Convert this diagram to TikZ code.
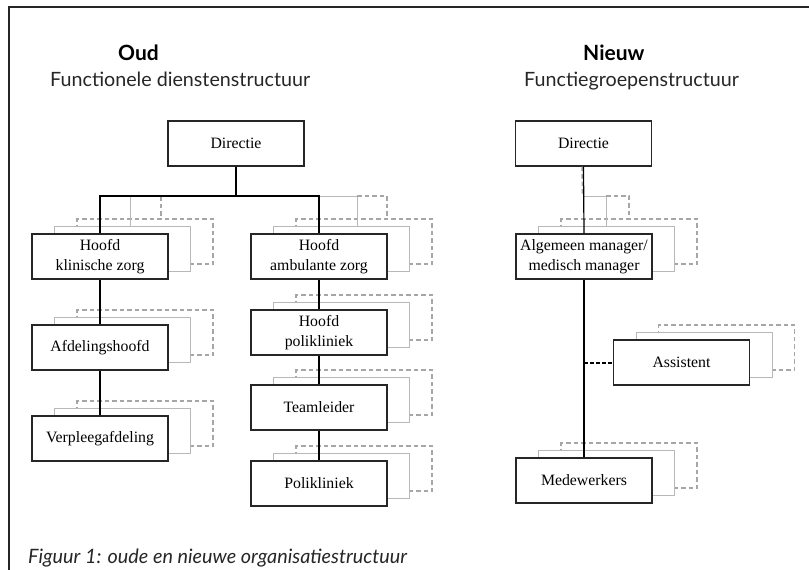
\documentclass[tikz,border=0pt]{standalone}
\usepackage{fontspec}
\setmainfont{Liberation Serif}
\newfontfamily\gill{Lato}
\begin{document}
\begin{tikzpicture}[x=1pt,y=-1pt]
\tikzset{
  mainbox/.style={draw=black!85, line width=1.3pt, fill=white, minimum width=136pt, minimum height=45pt, inner sep=0pt, align=center, font=\fontsize{15.8}{19.5}\selectfont},
  shadowsolid/.style={draw=black!28, line width=1pt, fill=white, minimum width=136pt, minimum height=45pt, inner sep=0pt},
  shadowdash/.style={draw=black!35, line width=1.5pt, dash pattern=on 4.5pt off 3pt, fill=white, minimum width=136pt, minimum height=45pt, inner sep=0pt},
  conn/.style={draw=black, line width=1.2pt},
  gconn/.style={draw=black!28, line width=1pt},
  dconn/.style={draw=black!35, line width=1.5pt, dash pattern=on 4.5pt off 3pt},
  bconn/.style={draw=black, line width=2pt, dash pattern=on 4pt off 2pt},
  titlefont/.style={font=\gill\bfseries\fontsize{21}{24}\selectfont, inner sep=0pt, anchor=base west},
  subfont/.style={font=\gill\fontsize{19.7}{22}\selectfont, text=black!85, inner sep=0pt, anchor=base west},
  capfont/.style={font=\gill\itshape\fontsize{19.8}{22}\selectfont, text=black!85, inner sep=0pt, anchor=base west},
}
\newcommand\stackbox[4]{%
  \node[shadowdash] (#1d) at (#2+45,#3-15) {};
  \node[shadowsolid] (#1s) at (#2+22.5,#3-7.5) {};
  \node[mainbox] (#1) at (#2,#3) {#4};
}
\useasboundingbox (0,0) rectangle (809,570);
% frame
\draw[line width=2pt, black!85] (9,570) -- (9,7) -- (809,7);
% titles
\node[titlefont] (toud) at (118,60) {Oud};
\node[subfont] (soud) at (50,86) {Functionele dienstenstructuur};
\node[titlefont] (tnieuw) at (583,60) {Nieuw};
\node[subfont] (snieuw) at (524,86) {Functiegroepenstructuur};
\node[capfont] (cap) at (28,563) {Figuur 1: oude en nieuwe organisatiestructuur};
% old chart
\node[mainbox] (dirA) at (236,143.5) {Directie};
\stackbox{hk}{100}{256.5}{Hoofd\\klinische zorg}
\stackbox{ah}{100}{347.5}{Afdelingshoofd}
\stackbox{va}{100}{438.5}{Verpleegafdeling}
\stackbox{ha}{319}{256.5}{Hoofd\\ambulante zorg}
\stackbox{hp}{319}{332.5}{Hoofd\\polikliniek}
\stackbox{tl}{319}{407.5}{Teamleider}
\stackbox{pk}{319}{483.5}{Polikliniek}
% new chart
\node[mainbox] (dirB) at (583.5,143.5) {Directie};
\stackbox{am}{584}{256.5}{Algemeen manager/\\medisch manager}
\stackbox{as}{681.5}{362.5}{Assistent}
\stackbox{mw}{584}{480.5}{Medewerkers}
% old connectors
\coordinate (busA) at (236,196);
\coordinate (gA1) at (130,196);
\coordinate (gA2) at (161,196);
\coordinate (gB1) at (357,196);
\coordinate (gB2) at (387,196);
\draw[gconn] (gA1) -- (gA1 |- hks.north);
\draw[dconn] (gA2) -- (gA2 |- hkd.north);
\draw[gconn] (319,196) -- (gB1) -- (gB1 |- has.north);
\draw[dconn] (gB1) -- (gB2) -- (gB2 |- had.north);
\draw[conn] (dirA.south) -- (busA);
\draw[conn] (hk.north) |- (busA) -| (ha.north);
\draw[conn] (hk.south) -- (ah.north);
\draw[conn] (ah.south) -- (va.north);
\draw[conn] (ha.south) -- (hp.north);
\draw[conn] (hp.south) -- (tl.north);
\draw[conn] (tl.south) -- (pk.north);
% new connectors
\coordinate (busB) at (584,196);
\coordinate (gC1) at (606,196);
\coordinate (gC2) at (629,196);
\coordinate (ast) at (584,362.5);
\draw[dconn] ([xshift=-1.5pt]dirB.south) -- ([xshift=-1.5pt]busB);
\draw[gconn] (busB) -- (gC1) -- (gC1 |- ams.north);
\draw[dconn] (gC1) -- (gC2) -- (gC2 |- amd.north);
\draw[conn] (dirB.south) -- (am.north);
\draw[conn] (am.south) -- (mw.north);
\draw[bconn] (ast) -- (as.west);
\end{tikzpicture}
\end{document}
